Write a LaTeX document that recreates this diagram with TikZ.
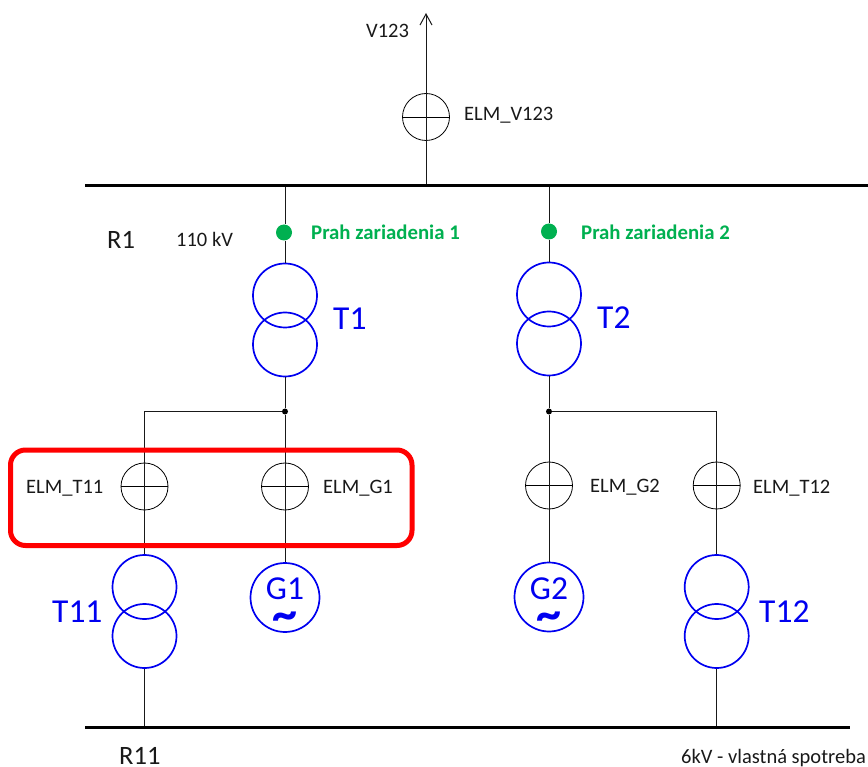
\documentclass[tikz,border=0pt]{standalone}
\usepackage{fontspec}
\usetikzlibrary{arrows.meta}
\setmainfont{Carlito}
\definecolor{elblue}{RGB}{0,0,240}
\definecolor{elgreen}{RGB}{0,176,80}
\definecolor{elred}{RGB}{255,0,0}
\tikzset{
  wire/.style={draw=black!90,line width=1pt},
  busbar/.style={draw=black,line width=3pt},
  meter/.style={circle,draw=black,line width=0.8pt,minimum size=47pt,inner sep=0pt,
    path picture={\draw[line width=0.8pt] (path picture bounding box.west) -- (path picture bounding box.east);}},
  wind/.style={circle,draw=elblue,line width=1.7pt,minimum size=64pt,inner sep=0pt},
  gen/.style={circle,draw=elblue,line width=1.7pt,minimum size=69pt,inner sep=0pt},
  thresh/.style={circle,fill=elgreen,minimum size=16pt,inner sep=0pt},
  junc/.style={circle,fill=black,minimum size=6pt,inner sep=0pt},
  lab/.style={anchor=base west,inner sep=0pt,font=\fontsize{20.5}{22}\selectfont,text=black!90},
  bluelab/.style={anchor=base west,inner sep=0pt,font=\fontsize{33.5}{36}\selectfont,text=elblue},
  greenlab/.style={anchor=base west,inner sep=0pt,font=\fontsize{20.8}{22}\selectfont\bfseries,text=elgreen},
  buslab/.style={anchor=base west,inner sep=0pt,font=\fontsize{26.5}{28}\selectfont,text=black!90},
  genlab/.style={anchor=base,inner sep=0pt,text height=21pt,text depth=0pt,font=\fontsize{33.5}{36}\selectfont,text=elblue},
  tildelab/.style={anchor=base,inner sep=0pt,text height=14pt,text depth=0pt,font=\fontsize{50}{52}\selectfont\bfseries,text=elblue},
}
\begin{document}
\begin{tikzpicture}[x=1pt,y=-1pt]
\useasboundingbox (0,0) rectangle (868,767);
% busbars
\coordinate (r1w) at (85,185.5);
\coordinate (r1e) at (868,185.5);
\coordinate (r11w) at (85,727.5);
\coordinate (r11e) at (850,727.5);
\coordinate (tapV) at (426,185);
\coordinate (tap1) at (285,185);
\coordinate (tap2) at (549,185);
\coordinate (tapT11) at (144.5,728);
\coordinate (tapT12) at (716.7,728);
\coordinate (vend) at (426,13);
\coordinate (corn1) at (144.5,411.5);
\coordinate (corn2) at (716.7,411.5);
% symbols
\node[meter] (mV) at (426,117) {};
\node[thresh] (th1) at (284,232.5) {};
\node[thresh] (th2) at (549,231.5) {};
\node[wind] (T1a) at (285,295.5) {};
\node[wind] (T1b) at (285,344.5) {};
\node[wind] (T2a) at (549,294.5) {};
\node[wind] (T2b) at (549,343.5) {};
\node[junc] (j1) at (285,411.5) {};
\node[junc] (j2) at (549,411.5) {};
\node[meter] (mT11) at (144.5,486.5) {};
\node[meter] (mG1) at (285,486.5) {};
\node[meter] (mG2) at (549,485.5) {};
\node[meter] (mT12) at (716.7,485.5) {};
\node[wind] (T11a) at (144.5,587) {};
\node[wind] (T11b) at (144.5,636) {};
\node[wind] (T12a) at (716.7,587) {};
\node[wind] (T12b) at (716.7,636) {};
\node[gen] (G1) at (285,597.5) {};
\node[gen] (G2) at (549,597) {};
% connectors
\draw[wire,-{Straight Barb[length=11pt,width=12pt]}] (tapV) -- (vend);
\draw[wire] (tap1) -- (tap1 |- th1.north);
\draw[wire] (th1.south -| T1a) -- (T1a);
\draw[wire] (T1b) -- (j1);
\draw[wire] (j1) -- (corn1) -- (mT11);
\draw[wire] (j1) -- (mG1);
\draw[wire] (mT11.north) -- (mT11.south);
\draw[wire] (mT11) -- (T11a);
\draw[wire] (mG1.north) -- (mG1.south);
\draw[wire] (mG1) -- (G1);
\draw[wire] (T11b) -- (tapT11);
\draw[wire] (tap2) -- (th2);
\draw[wire] (th2) -- (T2a);
\draw[wire] (T2b) -- (j2);
\draw[wire] (j2) -- (corn2) -- (mT12);
\draw[wire] (j2) -- (mG2);
\draw[wire] (mG2.north) -- (mG2.south);
\draw[wire] (mG2) -- (G2);
\draw[wire] (mT12.north) -- (mT12.south);
\draw[wire] (mT12) -- (T12a);
\draw[wire] (T12b) -- (tapT12);
\draw[busbar] (r1w) -- (r1e);
\draw[busbar] (r11w) -- (r11e);
% red frame
\draw[draw=elred,line width=5pt,rounded corners=15pt] (10.5,450) rectangle (412,545.5);
% labels
\node[lab] (lV) at (366,37.5) {V123};
\node[lab] (lmV) at (464,120.5) {ELM\_V123};
\node[buslab] (lR1) at (107,249) {R1};
\node[lab] (l110) at (176,246.5) {110 kV};
\node[greenlab] (lp1) at (311,239.5) {Prah zariadenia 1};
\node[greenlab] (lp2) at (581,239.5) {Prah zariadenia 2};
\node[bluelab] (lT1) at (333,330) {T1};
\node[bluelab] (lT2) at (597,329) {T2};
\node[lab] (lmT11) at (26,493) {ELM\_T11};
\node[lab] (lmG1) at (323,493) {ELM\_G1};
\node[lab] (lmG2) at (590,492) {ELM\_G2};
\node[lab] (lmT12) at (753,493) {ELM\_T12};
\node[bluelab] (lT11) at (52,622) {T11};
\node[bluelab] (lT12) at (759,622) {T12};
\node[genlab] (lG1) at (285,599) {G1};
\node[genlab] (lG2) at (549,599) {G2};
\node[tildelab] (t1) at (285,630) {\char"007E};
\node[tildelab] (t2) at (549,630) {\char"007E};
\node[buslab] (lR11) at (119,764) {R11};
\node[lab] (l6) at (681,763) {6kV - vlastná spotreba};
\end{tikzpicture}
\end{document}
